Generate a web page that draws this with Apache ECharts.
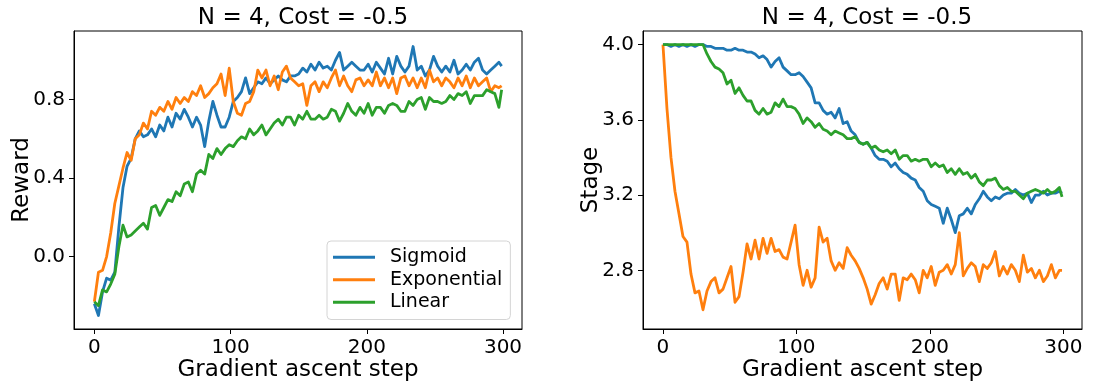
<!DOCTYPE html>
<html>
<head>
<meta charset="utf-8">
<script src="https://cdn.jsdelivr.net/npm/echarts@6/dist/echarts.min.js"></script>
<style>
html,body{margin:0;padding:0;background:#fff;}
#chart{width:1098px;height:383px;}
</style>
</head>
<body>
<div id="chart"></div>
<script>
// Gradient ascent steps sampled every 3 steps, plus final step 299
const steps = [];
for (let i = 0; i < 100; i++) steps.push(3 * i);
steps.push(299);

const seriesNames = ['Sigmoid', 'Exponential', 'Linear'];
const xTicks = [0, 100, 200, 300];
const rewardTicks = [0.0, 0.4, 0.8];
const stageTicks = [2.8, 3.2, 3.6, 4.0];

const sigmoidReward = [-0.24,-0.30,-0.18,-0.11,-0.12,-0.08,0.15,0.35,0.46,0.50,
0.60,0.64,0.61,0.62,0.65,0.61,0.67,0.64,0.71,0.66,
0.73,0.70,0.75,0.71,0.66,0.71,0.67,0.56,0.69,0.79,
0.72,0.66,0.66,0.71,0.79,0.81,0.84,0.91,0.83,0.86,
0.89,0.88,0.91,0.88,0.90,0.92,0.90,0.89,0.92,0.92,
0.93,0.96,0.94,0.98,0.95,0.99,0.96,0.97,0.95,1.00,
1.04,0.95,0.97,0.99,0.97,0.95,0.95,0.98,0.94,0.99,
0.96,0.93,1.01,0.93,1.02,0.97,0.94,0.97,1.07,0.95,
0.97,0.92,0.95,1.02,0.97,0.94,0.97,0.94,1.00,0.93,
0.95,0.98,0.95,0.99,1.01,0.95,0.93,0.95,0.97,0.99,
0.97];

const expReward = [-0.23,-0.08,-0.07,0.00,0.12,0.27,0.36,0.45,0.53,0.49,
0.60,0.62,0.68,0.65,0.74,0.72,0.76,0.74,0.79,0.75,
0.81,0.78,0.81,0.79,0.84,0.82,0.87,0.81,0.83,0.86,
0.88,0.93,0.82,0.96,0.79,0.73,0.72,0.78,0.79,0.84,
0.95,0.91,0.95,0.87,0.92,0.85,0.94,0.97,0.91,0.89,
0.87,0.88,0.77,0.87,0.89,0.84,0.89,0.86,0.91,0.95,
0.87,0.92,0.87,0.84,0.90,0.91,0.87,0.90,0.87,0.94,
0.87,0.91,0.86,0.91,0.83,0.91,0.92,0.87,0.91,0.86,
0.91,0.86,0.95,0.89,0.91,0.87,0.91,0.89,0.86,0.91,
0.87,0.92,0.86,0.91,0.87,0.89,0.91,0.84,0.87,0.86,
0.87];

const linReward = [-0.23,-0.25,-0.17,-0.18,-0.14,-0.09,0.05,0.16,0.10,0.11,
0.13,0.15,0.17,0.14,0.25,0.26,0.21,0.25,0.29,0.28,
0.33,0.31,0.37,0.38,0.33,0.42,0.44,0.42,0.52,0.50,
0.55,0.52,0.55,0.57,0.56,0.59,0.61,0.60,0.65,0.62,
0.64,0.67,0.62,0.65,0.68,0.70,0.67,0.71,0.71,0.67,
0.72,0.70,0.74,0.70,0.70,0.72,0.70,0.71,0.75,0.74,
0.69,0.73,0.78,0.74,0.72,0.76,0.73,0.78,0.72,0.76,
0.76,0.73,0.77,0.78,0.77,0.74,0.74,0.79,0.77,0.80,
0.81,0.75,0.81,0.79,0.79,0.78,0.79,0.82,0.80,0.83,
0.82,0.84,0.78,0.82,0.82,0.82,0.85,0.84,0.83,0.76,
0.85];

const sigStage = [4.00,4.00,3.99,4.00,3.99,4.00,3.99,4.00,3.99,4.00,
4.00,3.99,3.99,3.98,3.98,3.98,3.97,3.97,3.98,3.97,
3.97,3.96,3.96,3.95,3.93,3.94,3.92,3.88,3.91,3.93,
3.88,3.86,3.84,3.84,3.85,3.83,3.80,3.77,3.69,3.69,
3.65,3.63,3.64,3.61,3.66,3.58,3.59,3.54,3.52,3.48,
3.47,3.48,3.45,3.41,3.39,3.39,3.38,3.35,3.37,3.34,
3.32,3.31,3.29,3.28,3.24,3.22,3.17,3.15,3.14,3.13,
3.05,3.13,3.07,3.00,3.09,3.10,3.13,3.10,3.15,3.18,
3.22,3.19,3.17,3.19,3.18,3.20,3.21,3.21,3.23,3.21,
3.20,3.21,3.16,3.20,3.20,3.22,3.20,3.21,3.21,3.22,
3.21];

const expStage = [4.00,3.66,3.40,3.22,3.10,2.98,2.95,2.78,2.68,2.69,
2.59,2.69,2.74,2.76,2.68,2.70,2.76,2.82,2.63,2.66,
2.79,2.94,2.86,2.96,2.86,2.97,2.89,2.97,2.90,2.91,
2.87,2.86,2.95,3.04,2.83,2.72,2.80,2.71,2.76,3.03,
2.95,2.97,2.85,2.80,2.84,2.81,2.92,2.88,2.85,2.81,
2.76,2.70,2.62,2.67,2.73,2.76,2.70,2.78,2.78,2.64,
2.76,2.75,2.78,2.75,2.68,2.80,2.76,2.82,2.72,2.79,
2.80,2.83,2.78,2.83,3.00,2.77,2.81,2.84,2.82,2.74,
2.83,2.81,2.84,2.90,2.77,2.82,2.78,2.83,2.80,2.74,
2.88,2.79,2.81,2.76,2.80,2.74,2.77,2.83,2.76,2.80,
2.80];

const linStage = [4.00,4.00,4.00,4.00,4.00,4.00,4.00,4.00,4.00,4.00,
4.00,3.95,3.91,3.88,3.87,3.85,3.79,3.81,3.74,3.77,
3.73,3.70,3.70,3.65,3.63,3.66,3.63,3.64,3.69,3.67,
3.71,3.67,3.67,3.66,3.63,3.58,3.61,3.59,3.56,3.58,
3.55,3.54,3.52,3.54,3.53,3.52,3.50,3.50,3.51,3.48,
3.47,3.48,3.45,3.46,3.44,3.43,3.44,3.42,3.44,3.39,
3.41,3.41,3.38,3.39,3.38,3.39,3.39,3.35,3.37,3.35,
3.36,3.32,3.34,3.31,3.34,3.31,3.32,3.29,3.31,3.27,
3.25,3.28,3.28,3.29,3.25,3.23,3.24,3.22,3.22,3.20,
3.18,3.21,3.22,3.23,3.22,3.21,3.23,3.21,3.22,3.24,
3.19];

const colors = ['#1f77b4', '#ff7f0e', '#2ca02c'];
const FONT = 'DejaVu Sans';

function pairs(arr) { return steps.map((s, i) => [s, arr[i]]); }

function xAxisCfg(gridIndex) {
  return {
    gridIndex, type: 'value', min: -14.95, max: 313.95,
    name: 'Gradient ascent step', nameLocation: 'middle', nameGap: 30, nameMoveOverlap: false,
    nameTextStyle: { fontFamily: FONT, fontSize: 23, color: '#000' },
    axisLine: { show: true, onZero: false, lineStyle: { color: '#000', width: 1 } },
    axisTick: { show: true, inside: false, length: 5, customValues: xTicks, lineStyle: { color: '#000', width: 1 } },
    axisLabel: { show: true, customValues: xTicks, margin: 9, fontFamily: FONT, fontSize: 20, color: '#000',
      formatter: v => String(Math.round(v)) },
    splitLine: { show: false }
  };
}
function yAxisCfg(gridIndex, min, max, ticks, name) {
  return {
    gridIndex, type: 'value', min, max,
    name, nameLocation: 'middle', nameGap: 40, nameRotate: 90, nameMoveOverlap: false,
    nameTextStyle: { fontFamily: FONT, fontSize: 23, color: '#000' },
    axisLine: { show: true, onZero: false, lineStyle: { color: '#000', width: 1 } },
    axisTick: { show: true, inside: false, length: 5, customValues: ticks, lineStyle: { color: '#000', width: 1 } },
    axisLabel: { show: true, customValues: ticks, margin: 9, fontFamily: FONT, fontSize: 20, color: '#000',
      formatter: v => v.toFixed(1) },
    splitLine: { show: false }
  };
}
function lineSeries(name, data, xi, color) {
  return {
    name, type: 'line', xAxisIndex: xi, yAxisIndex: xi, data: pairs(data),
    showSymbol: false, symbol: 'none', animation: false,
    lineStyle: { color, width: 2.8, join: 'round' }, itemStyle: { color }
  };
}

const chart = echarts.init(document.getElementById('chart'), null, { renderer: 'canvas' });
chart.setOption({
  backgroundColor: '#fff',
  animation: false,
  color: colors,
  title: [
    { text: 'N = 4, Cost = -0.5', left: 298, top: 2, textAlign: 'center',
      textStyle: { fontFamily: FONT, fontSize: 23, fontWeight: 'normal', color: '#000' } },
    { text: 'N = 4, Cost = -0.5', left: 862, top: 2, textAlign: 'center',
      textStyle: { fontFamily: FONT, fontSize: 23, fontWeight: 'normal', color: '#000' } }
  ],
  grid: [
    { left: 74, top: 31, width: 448, height: 298, show: true, borderColor: '#000', borderWidth: 1,
      containLabel: false, outerBoundsMode: 'none' },
    { left: 643, top: 31, width: 439, height: 298, show: true, borderColor: '#000', borderWidth: 1,
      containLabel: false, outerBoundsMode: 'none' }
  ],
  legend: {
    data: seriesNames, orient: 'vertical', left: 327, top: 241,
    icon: 'rect', itemWidth: 42, itemHeight: 3, itemGap: 0,
    padding: [5, 8, 6, 6],
    backgroundColor: '#fff', borderColor: '#d4d4d4', borderWidth: 1, borderRadius: 4,
    textStyle: { fontFamily: FONT, fontSize: 19, color: '#000', lineHeight: 22.5, padding: [0, 0, 0, 10] }
  },
  xAxis: [xAxisCfg(0), xAxisCfg(1)],
  yAxis: [
    yAxisCfg(0, -0.369, 1.149, rewardTicks, 'Reward'),
    yAxisCfg(1, 2.488, 4.072, stageTicks, 'Stage')
  ],
  series: [
    lineSeries('Sigmoid', sigmoidReward, 0, colors[0]),
    lineSeries('Exponential', expReward, 0, colors[1]),
    lineSeries('Linear', linReward, 0, colors[2]),
    lineSeries('Sigmoid', sigStage, 1, colors[0]),
    lineSeries('Exponential', expStage, 1, colors[1]),
    lineSeries('Linear', linStage, 1, colors[2])
  ]
});
</script>
</body>
</html>
